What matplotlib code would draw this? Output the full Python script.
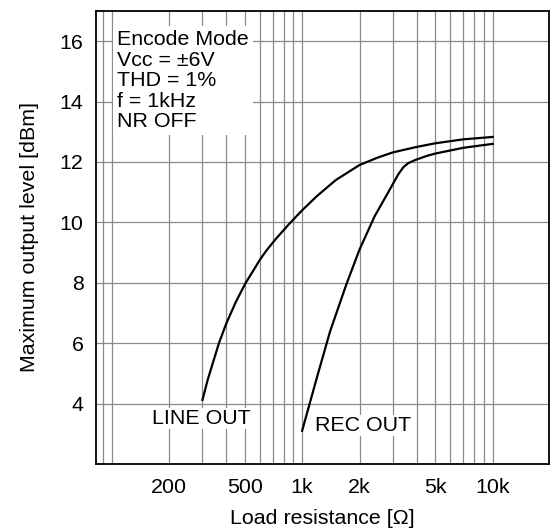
import numpy as np
import matplotlib
matplotlib.use('Agg')
import matplotlib.pyplot as plt

plt.rcParams['font.family'] = ['Liberation Sans', 'DejaVu Sans']

# curves (load resistance in ohm, level in dBm)
line_r = [300, 320, 350, 366, 400, 450, 506, 560, 600, 650, 727, 850, 1000, 1200, 1500, 2000, 2500, 3000, 4000, 5000, 7000, 10000]
line_db = [4.12, 4.8, 5.6, 6.0, 6.65, 7.38, 8.0, 8.45, 8.76, 9.07, 9.45, 9.93, 10.4, 10.88, 11.4, 11.9, 12.15, 12.32, 12.5, 12.62, 12.75, 12.83]

rec_r = [1000, 1200, 1400, 1700, 2000, 2400, 2890, 3200, 3400, 3600, 3900, 4500, 5000, 7000, 10000]
rec_db = [3.1, 4.9, 6.38, 7.92, 9.1, 10.2, 11.1, 11.6, 11.83, 11.96, 12.06, 12.2, 12.28, 12.47, 12.6]

grid_r = [90] + [m * 10 ** e for e in (2, 3) for m in range(1, 10)] + [10000]
label_r = {200: '200', 500: '500', 1000: '1k', 2000: '2k', 5000: '5k', 10000: '10k'}
y_ticks = [4, 6, 8, 10, 12, 14, 16]

conditions = ['Encode Mode', 'V\u1d04\u1d04 = \u00b16V', 'THD = 1%', 'f = 1kHz', 'NR OFF']

fs = 15.4
fig = plt.figure(figsize=(5.51, 5.29), dpi=100)
ax = fig.add_axes([0.1742, 0.1229, 0.8227, 0.8563])

ax.set_xscale('log')
ax.set_xlim(82.9, 19800)
ax.set_ylim(2, 17)

ax.set_xticks(grid_r, labels=[label_r.get(r, '') for r in grid_r])
ax.xaxis.set_minor_locator(matplotlib.ticker.NullLocator())
ax.set_yticks(y_ticks)
ax.tick_params(length=0, labelsize=fs)
ax.tick_params(axis='x', pad=10)
ax.tick_params(axis='y', pad=9)
ax.grid(True, color='#8a8a8a', lw=0.9)
ax.set_axisbelow(True)
for s in ax.spines.values():
    s.set_linewidth(1.3)
    s.set_color('black')

ax.plot(line_r, line_db, color='black', lw=1.6, zorder=3)
ax.plot(rec_r, rec_db, color='black', lw=1.6, zorder=3)

ax.text(107, 16.37, '\n'.join(conditions), fontsize=fs, va='top', ha='left',
        linespacing=1.1, zorder=4,
        bbox=dict(facecolor='white', edgecolor='none', pad=3))
ax.text(163, 3.51, 'LINE OUT', fontsize=fs, va='center', ha='left', zorder=4,
        bbox=dict(facecolor='white', edgecolor='none', pad=1))
ax.text(1165, 3.27, 'REC OUT', fontsize=fs, va='center', ha='left', zorder=4,
        bbox=dict(facecolor='white', edgecolor='none', pad=1))

ax.set_xlabel('Load resistance [\u03a9]', fontsize=fs, labelpad=9)
ax.set_ylabel('Maximum output level [dBm]', fontsize=fs, labelpad=15)

fig.savefig('out.png', dpi=100)
